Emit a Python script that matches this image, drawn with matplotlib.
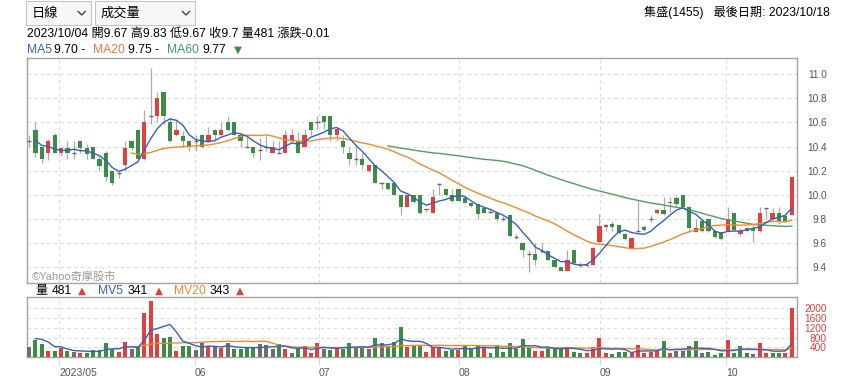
import numpy as np
import pandas as pd
import matplotlib
matplotlib.use('Agg')
import matplotlib.pyplot as plt
from matplotlib.patches import Rectangle
from matplotlib.lines import Line2D

plt.rcParams['font.family'] = ['Liberation Sans', 'Noto Sans CJK TC', 'DejaVu Sans']

# three sessions before the visible window, only used by the moving averages
pre_close = [10.50, 10.50, 10.45]
pre_volume = [700, 800, 1200]

opens = [10.45, 10.54, 10.40, 10.35, 10.50, 10.35, 10.39, 10.35, 10.45, 10.39,
         10.40, 10.30, 10.35, 10.20, 10.18, 10.25, 10.45, 10.54, 10.30, 10.65,
         10.65, 10.85, 10.60, 10.50, 10.49, 10.45, 10.45, 10.50, 10.45, 10.54,
         10.50, 10.60, 10.60, 10.50, 10.40, 10.40, 10.37, 10.40, 10.35, 10.35,
         10.35, 10.45, 10.45, 10.40, 10.60, 10.60, 10.65, 10.65, 10.50, 10.45,
         10.35, 10.30, 10.30, 10.20, 10.25, 10.10, 10.10, 10.10, 10.00, 9.90,
         10.00, 10.00, 9.87, 9.85, 10.09, 10.05, 10.00, 10.05, 9.97, 9.93,
         9.92, 9.89, 9.86, 9.85, 9.80, 9.83, 9.65, 9.60, 9.51, 9.51,
         9.53, 9.53, 9.46, 9.40, 9.37, 9.54, 9.42, 9.41, 9.42, 9.61,
         9.73, 9.76, 9.75, 9.67, 9.55, 9.70, 9.73, 9.80, 9.85, 9.87,
         9.94, 9.97, 10.00, 9.90, 9.69, 9.78, 9.80, 9.70, 9.69, 9.70,
         9.85, 9.67, 9.72, 9.72, 9.70, 9.89, 9.80, 9.85, 9.82, 9.83]
highs = [10.50, 10.60, 10.40, 10.46, 10.51, 10.39, 10.45, 10.45, 10.45, 10.42,
         10.40, 10.32, 10.36, 10.20, 10.20, 10.45, 10.45, 10.55, 10.70, 11.05,
         10.85, 10.85, 10.64, 10.62, 10.53, 10.45, 10.50, 10.50, 10.56, 10.55,
         10.60, 10.65, 10.60, 10.51, 10.50, 10.40, 10.47, 10.49, 10.45, 10.45,
         10.54, 10.55, 10.52, 10.55, 10.60, 10.65, 10.65, 10.65, 10.56, 10.50,
         10.40, 10.40, 10.35, 10.25, 10.25, 10.10, 10.10, 10.10, 10.00, 10.00,
         10.00, 10.00, 9.89, 10.05, 10.10, 10.05, 10.05, 10.05, 10.00, 9.94,
         9.92, 9.90, 9.88, 9.86, 9.82, 9.83, 9.67, 9.60, 9.54, 9.60,
         9.60, 9.53, 9.46, 9.40, 9.54, 9.54, 9.44, 9.43, 9.57, 9.84,
         9.76, 9.78, 9.75, 9.68, 9.65, 9.95, 9.75, 9.83, 9.88, 9.98,
         9.98, 9.99, 10.00, 9.90, 9.80, 9.79, 9.80, 9.70, 9.69, 9.90,
         9.85, 9.72, 9.73, 9.76, 9.90, 9.89, 9.89, 9.90, 9.82, 10.15]
lows = [10.40, 10.31, 10.26, 10.29, 10.35, 10.32, 10.30, 10.30, 10.35, 10.30,
        10.30, 10.20, 10.11, 10.08, 10.14, 10.20, 10.37, 10.29, 10.29, 10.59,
        10.60, 10.59, 10.44, 10.49, 10.40, 10.36, 10.36, 10.39, 10.44, 10.45,
        10.49, 10.53, 10.50, 10.40, 10.39, 10.31, 10.29, 10.36, 10.35, 10.35,
        10.35, 10.44, 10.35, 10.40, 10.50, 10.55, 10.55, 10.45, 10.45, 10.35,
        10.25, 10.25, 10.21, 10.19, 10.10, 10.05, 10.04, 10.00, 9.83, 9.90,
        9.93, 9.84, 9.86, 9.85, 10.00, 9.99, 9.94, 9.95, 9.93, 9.90,
        9.80, 9.85, 9.85, 9.78, 9.78, 9.65, 9.63, 9.48, 9.36, 9.42,
        9.52, 9.46, 9.40, 9.37, 9.37, 9.42, 9.40, 9.40, 9.42, 9.60,
        9.70, 9.70, 9.67, 9.62, 9.55, 9.69, 9.70, 9.77, 9.84, 9.83,
        9.86, 9.91, 9.89, 9.69, 9.69, 9.69, 9.69, 9.64, 9.62, 9.69,
        9.70, 9.66, 9.70, 9.61, 9.69, 9.80, 9.79, 9.76, 9.77, 9.83]
closes = [10.45, 10.35, 10.30, 10.45, 10.35, 10.39, 10.35, 10.35, 10.39, 10.34,
          10.30, 10.24, 10.15, 10.10, 10.18, 10.39, 10.39, 10.30, 10.60, 10.65,
          10.80, 10.65, 10.45, 10.54, 10.45, 10.40, 10.45, 10.40, 10.50, 10.50,
          10.54, 10.54, 10.50, 10.45, 10.40, 10.35, 10.37, 10.40, 10.40, 10.35,
          10.50, 10.50, 10.35, 10.50, 10.54, 10.60, 10.60, 10.50, 10.55, 10.40,
          10.30, 10.30, 10.25, 10.25, 10.10, 10.10, 10.05, 10.00, 9.90, 10.00,
          9.94, 9.85, 9.88, 9.98, 10.09, 10.00, 9.95, 9.95, 9.93, 9.91,
          9.84, 9.85, 9.86, 9.80, 9.80, 9.66, 9.65, 9.54, 9.51, 9.46,
          9.53, 9.46, 9.40, 9.37, 9.46, 9.43, 9.42, 9.42, 9.56, 9.74,
          9.75, 9.73, 9.68, 9.63, 9.64, 9.70, 9.71, 9.80, 9.87, 9.84,
          9.93, 9.92, 9.90, 9.72, 9.72, 9.70, 9.70, 9.65, 9.63, 9.80,
          9.71, 9.70, 9.70, 9.70, 9.85, 9.89, 9.85, 9.78, 9.78, 10.15]
volumes = [408, 707, 544, 258, 258, 367, 258, 231, 190, 190,
           300, 300, 598, 326, 231, 639, 340, 462, 1795, 2312,
           938, 789, 843, 258, 476, 476, 300, 571, 462, 408,
           367, 571, 340, 340, 367, 367, 544, 503, 340, 544,
           340, 190, 408, 462, 190, 598, 340, 300, 408, 340,
           598, 435, 367, 340, 775, 598, 462, 639, 1251, 435,
           462, 462, 231, 435, 435, 272, 300, 300, 462, 367,
           503, 394, 190, 503, 231, 571, 340, 748, 435, 272,
           272, 367, 435, 367, 408, 231, 190, 163, 408, 775,
           190, 136, 231, 231, 163, 503, 163, 231, 272, 666,
           190, 272, 272, 476, 666, 163, 231, 95, 163, 707,
           190, 462, 190, 122, 571, 190, 190, 163, 190, 2026]
# u = up day, d = down day, f = unchanged (decides the volume bar colour)
vol_dir = ''.join(['fddududfud', 'dddduufduu', 'udduddffuf', 'ufddddfffd',
                   'ufduuufdud', 'dfdfdfdddu', 'dduuuddudd', 'dudddddddu',
                   'udddudduuu', 'uddduuuuud', 'uffddfdddu', 'dddfuudduu'])

month_pos = [4.73, 25.9, 45.2, 67.1, 89.1, 108.8]
month_labels = ['2023/05', '06', '07', '08', '09', '10']

RED, GREEN, GRAY = '#e23f3f', '#3a8c46', '#6e6e6e'
C_MA5, C_MA20, C_MA60 = '#3461c1', '#f5892a', '#4f9e60'

o, h, l, c = (np.array(a) for a in (opens, highs, lows, closes))
v = np.array(volumes)
x = np.arange(len(c))

cs = pd.Series(pre_close + closes)
ma5 = cs.rolling(5).mean().values[3:]
ma20 = cs.rolling(20).mean().values[3:]
ma60 = cs.rolling(60).mean().values[3:]
vs = pd.Series(pre_volume + volumes)
mv5 = vs.rolling(5).mean().values[3:]
mv20 = vs.rolling(20).mean().values[3:]

W, H = 845, 387
fig = plt.figure(figsize=(W / 100, H / 100), dpi=100)
fx = lambda px: px / W
fy = lambda py: 1 - py / H

ax = fig.add_axes([fx(27), fy(283.3), 769.7 / W, 225 / H])
axv = fig.add_axes([fx(27), fy(357.3), 769.7 / W, 60.6 / H])

# candles
up, dn, fl = c > o, c < o, c == o
ax.vlines(x, l, h, color='#aaaaaa', lw=0.9, zorder=2)
bot = np.minimum(o, c)
hgt = np.abs(c - o)
ax.bar(x[up], hgt[up], bottom=bot[up], width=0.66, color=RED, zorder=3)
ax.bar(x[dn], hgt[dn], bottom=bot[dn], width=0.66, color=GREEN, zorder=3)
ax.hlines(c[fl], x[fl] - 0.33, x[fl] + 0.33, color='#666666', lw=1.0, zorder=3)
ax.plot(x, ma60, color=C_MA60, lw=1.0, zorder=4)
ax.plot(x, ma20, color=C_MA20, lw=1.0, zorder=4)
ax.plot(x, ma5, color=C_MA5, lw=1.0, zorder=5)

# volume
vcol = [{'u': RED, 'd': GREEN, 'f': GRAY}[d] for d in vol_dir]
axv.bar(x, v, width=0.62, color=vcol, zorder=3)
axv.plot(x, mv20, color=C_MA20, lw=1.0, zorder=4)
axv.plot(x, mv5, color=C_MA5, lw=1.0, zorder=5)

for a in (ax, axv):
    a.set_xlim(-0.31, 119.77)
    a.set_xticks(month_pos)
    a.yaxis.tick_right()
    a.grid(True, ls=(0, (3, 3)), color='#dcdcdc', lw=0.8)
    a.set_axisbelow(True)
    for s in a.spines.values():
        s.set_color('#a3a3a3')
        s.set_linewidth(1)

yt = np.round(np.arange(9.4, 11.01, 0.2), 1)
ax.set_ylim(9.2645, 11.133)
ax.set_yticks(yt)
ax.set_yticklabels([f'{t:.1f}' for t in yt])
ax.tick_params(axis='y', length=0, pad=21.6, labelsize=7.3, labelcolor='#555555')
ax.tick_params(axis='x', length=0, labelbottom=False)
for t in ax.get_yticklabels():
    t.set_ha('right')

axv.set_ylim(0, 2470)
axv.set_yticks([400, 800, 1200, 1600, 2000])
axv.tick_params(axis='y', length=0, pad=21.6, labelsize=7.3, labelcolor=RED)
for t in axv.get_yticklabels():
    t.set_ha('right')
axv.set_xticklabels(month_labels)
axv.tick_params(axis='x', length=6, width=0.8, color='#d5dbe6', pad=1.5,
                labelsize=7.6, labelcolor='#555555')
for t in axv.get_xticklabels():
    t.set_ha('left')

ax.text(4.7 / 769.7, 0.032, '©Yahoo奇摩股市', transform=ax.transAxes,
        ha='left', va='center', fontsize=8, color='#999999')

# header: dropdowns
for x0, x1, label in [(26, 90.7, '日線'), (95, 195, '成交量')]:
    fig.add_artist(Rectangle((fx(x0), fy(25)), fx(x1) - fx(x0), 24 / H,
                             transform=fig.transFigure, facecolor='#f7f7f7',
                             edgecolor='#c6c6c6', lw=0.8))
    fig.text(fx(x0 + 6), fy(13.5), label, ha='left', va='center', fontsize=9.5)
    cx = x1 - 9
    fig.add_artist(Line2D([fx(cx - 3.5), fx(cx), fx(cx + 3.5)], [fy(11.5), fy(15), fy(11.5)],
                          transform=fig.transFigure, color='#444444', lw=1))

fig.text(fx(830), fy(12), '集盛(1455)   最後日期: 2023/10/18', ha='right', va='center', fontsize=8.7)
fig.text(fx(26.7), fy(33.5), '2023/10/04 開9.67 高9.83 低9.67 收9.7 量481 漲跌-0.01',
         ha='left', va='center', fontsize=8.7)

renderer = fig.canvas.get_renderer()


def text_run(x0, y, pieces):
    # place coloured pieces one after another on one line
    px = x0
    for s, col, gap in pieces:
        kw = {'family': 'DejaVu Sans', 'fontsize': 7.5} if s in '▲▼' else {'fontsize': 8.7}
        t = fig.text(fx(px), fy(y), s, ha='left', va='center', color=col, **kw)
        px = t.get_window_extent(renderer=renderer).x1 + gap


text_run(26.7, 50, [('MA5', C_MA5, 2.5), ('9.70 -', 'black', 8), ('MA20', '#f4733c', 3),
                    ('9.75 -', 'black', 8), ('MA60', '#3f9a70', 3.5), ('9.77', 'black', 7),
                    ('▼', GREEN, 0)])
text_run(35, 290.7, [('量', 'black', 5), ('481', 'black', 6), ('▲', RED, 12),
                     ('MV5', C_MA5, 4), ('341', 'black', 7), ('▲', RED, 11),
                     ('MV20', C_MA20, 4), ('343', 'black', 6), ('▲', RED, 0)])

fig.savefig('out.png', dpi=100)
